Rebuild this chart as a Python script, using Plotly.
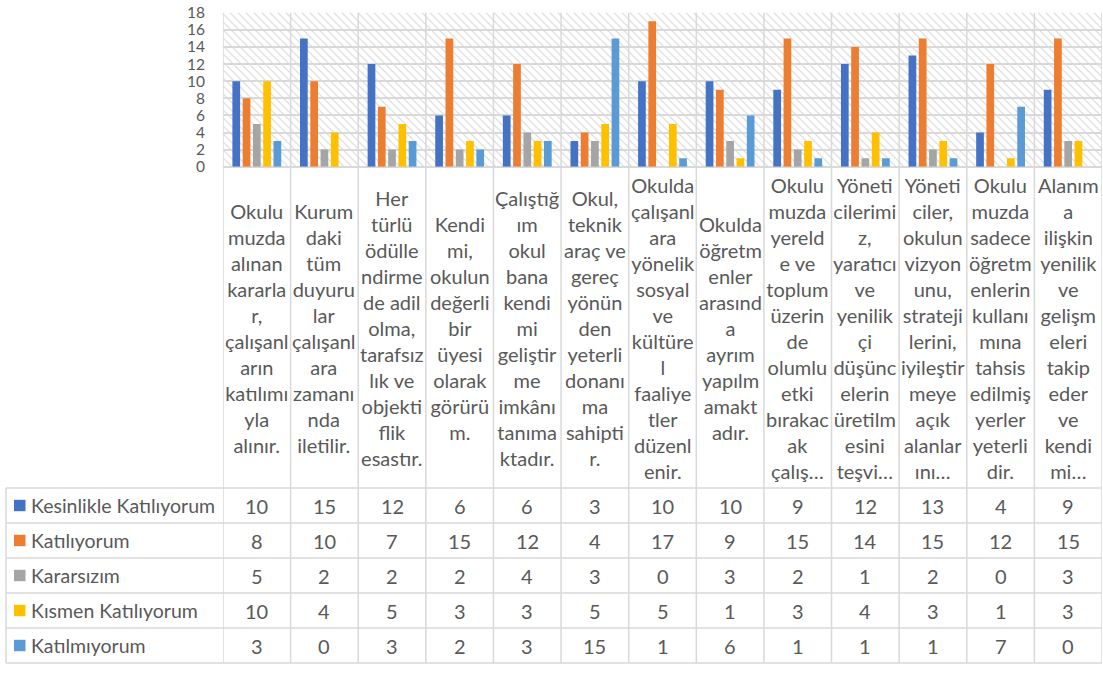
import plotly.graph_objects as go

W, H = 1103, 673

category_lines = [
    ["Okulu", "muzda", "alınan", "kararla", "r,", "çalışanl", "arın", "katılımı", "yla", "alınır."],
    ["Kurum", "daki", "tüm", "duyuru", "lar", "çalışanl", "ara", "zamanı", "nda", "iletilir."],
    ["Her", "türlü", "ödülle", "ndirme", "de adil", "olma,", "tarafsız", "lık ve", "objekti", "flik", "esastır."],
    ["Kendi", "mi,", "okulun", "değerli", "bir", "üyesi", "olarak", "görürü", "m."],
    ["Çalıştığ", "ım", "okul", "bana", "kendi", "mi", "geliştir", "me", "imkânı", "tanıma", "ktadır."],
    ["Okul,", "teknik", "araç ve", "gereç", "yönün", "den", "yeterli", "donanı", "ma", "sahipti", "r."],
    ["Okulda", "çalışanl", "ara", "yönelik", "sosyal", "ve", "kültüre", "l", "faaliye", "tler", "düzenl", "enir."],
    ["Okulda", "öğretm", "enler", "arasınd", "a", "ayrım", "yapılm", "amakt", "adır."],
    ["Okulu", "muzda", "yereld", "e ve", "toplum", "üzerin", "de", "olumlu", "etki", "bırakac", "ak", "çalış…"],
    ["Yöneti", "cilerimi", "z,", "yaratıcı", "ve", "yenilik", "çi", "düşünc", "elerin", "üretilm", "esini", "teşvi…"],
    ["Yöneti", "ciler,", "okulun", "vizyon", "unu,", "strateji", "lerini,", "iyileştir", "meye", "açık", "alanlar", "ını…"],
    ["Okulu", "muzda", "sadece", "öğretm", "enlerin", "kullanı", "mına", "tahsis", "edilmiş", "yerler", "yeterli", "dir."],
    ["Alanım", "a", "ilişkin", "yenilik", "ve", "gelişm", "eleri", "takip", "eder", "ve", "kendi", "mi…"],
]
categories = ["\n".join(l) for l in category_lines]

series_names = ["Kesinlikle Katılıyorum", "Katılıyorum", "Kararsızım", "Kısmen Katılıyorum", "Katılmıyorum"]
kesinlikle = [10, 15, 12, 6, 6, 3, 10, 10, 9, 12, 13, 4, 9]
katiliyorum = [8, 10, 7, 15, 12, 4, 17, 9, 15, 14, 15, 12, 15]
kararsizim = [5, 2, 2, 2, 4, 3, 0, 3, 2, 1, 2, 0, 3]
kismen = [10, 4, 5, 3, 3, 5, 5, 1, 3, 4, 3, 1, 3]
katilmiyorum = [3, 0, 3, 2, 3, 15, 1, 6, 1, 1, 1, 7, 0]
series_values = [kesinlikle, katiliyorum, kararsizim, kismen, katilmiyorum]
colors = ["#4472C4", "#ED7D31", "#A5A5A5", "#FFC000", "#5B9BD5"]
y_ticks = [0, 2, 4, 6, 8, 10, 12, 14, 16, 18]

# layout in pixels
PL, PR = 223, 1102
PT, PB = 12.7, 166.7
LBL_CENTER = 328.3
ROW_TOP = 488
ROW_H = 35
TBL_LEFT = 6
GRID = "#d9d9d9"
HATCH = "#e2e2e2"
TXT = "#595959"
FONT = "Lato"
FS = 20


def px(x):
    return x / W


def py(y):
    return 1 - y / H


fig = go.Figure()
for name, vals, c in zip(series_names, series_values, colors):
    fig.add_trace(go.Bar(x=categories, y=vals, name=name, marker=dict(color=c, line=dict(width=0))))

shapes = []
annotations = []
n = len(categories)

# diagonal hatch of the plot area (decoration)
step = 8.0
c = PT - PR
while c < PB - PL:
    xa = max(PL, PT - c)
    xb = min(PR, PB - c)
    if xb > xa:
        shapes.append(dict(type="line", xref="paper", yref="paper", x0=px(xa), y0=py(xa + c),
                           x1=px(xb), y1=py(xb + c), line=dict(color=HATCH, width=1.4), layer="below"))
    c += step

# vertical lines
for i in range(n + 1):
    shapes.append(dict(type="line", xref="x", yref="paper", x0=i - 0.5, x1=i - 0.5,
                       y0=py(ROW_TOP + 5 * ROW_H), y1=py(PT), line=dict(color=GRID, width=1.5), layer="above"))
# table left border
shapes.append(dict(type="line", xref="paper", yref="paper", x0=px(TBL_LEFT), x1=px(TBL_LEFT),
                   y0=py(ROW_TOP + 5 * ROW_H), y1=py(ROW_TOP), line=dict(color=GRID, width=1.5)))
# table horizontal lines
for r in range(6):
    yy = ROW_TOP + r * ROW_H
    shapes.append(dict(type="line", xref="paper", yref="paper", x0=px(TBL_LEFT), x1=px(PR),
                       y0=py(yy), y1=py(yy), line=dict(color=GRID, width=1.5)))

# category labels
for i, lines in enumerate(category_lines):
    annotations.append(dict(x=categories[i], xref="x", y=py(LBL_CENTER), yref="paper",
                            text="<br>".join(lines), align="center",
                            showarrow=False, xanchor="center", yanchor="middle",
                            font=dict(family=FONT, size=FS, color=TXT)))

# table rows
for r, (name, vals, col) in enumerate(zip(series_names, series_values, colors)):
    yc = ROW_TOP + r * ROW_H + ROW_H / 2
    shapes.append(dict(type="rect", xref="paper", yref="paper", x0=px(14), x1=px(25.5),
                       y0=py(yc + 5.7), y1=py(yc - 5.7), fillcolor=col, line=dict(width=0)))
    annotations.append(dict(x=px(29), xref="paper", y=py(yc), yref="paper", text=name, showarrow=False,
                            xanchor="left", yanchor="middle", font=dict(family=FONT, size=19.5, color=TXT)))
    for i, v in enumerate(vals):
        annotations.append(dict(x=categories[i], xref="x", y=py(yc), yref="paper", text=str(v),
                                showarrow=False, xanchor="center", yanchor="middle",
                                font=dict(family=FONT, size=FS, color=TXT)))

fig.update_layout(
    width=W, height=H,
    margin=dict(l=0, r=0, t=0, b=0, autoexpand=False),
    paper_bgcolor="white",
    plot_bgcolor="rgba(0,0,0,0)",
    barmode="group", bargap=0.24, bargroupgap=0.25,
    showlegend=False,
    xaxis=dict(domain=[px(PL), px(PR)], range=[-0.5, n - 0.5], showticklabels=False, automargin=False,
               showgrid=False, zeroline=False, showline=False, ticks=""),
    yaxis=dict(domain=[py(PB), py(PT)], range=[0, 18.01], tickvals=y_ticks, showgrid=True, automargin=False,
               gridcolor=GRID, gridwidth=1.5, zeroline=True, zerolinecolor=GRID, zerolinewidth=1.5,
               showline=False, ticks="", ticklabelstandoff=17, ticklabeloverflow="allow",
               tickfont=dict(family=FONT, size=15.5, color=TXT)),
    shapes=shapes,
    annotations=annotations,
)

fig.write_html("out.html", config={"displayModeBar": False},
               post_script="document.body.style.margin='0px';document.body.style.padding='0px';")
